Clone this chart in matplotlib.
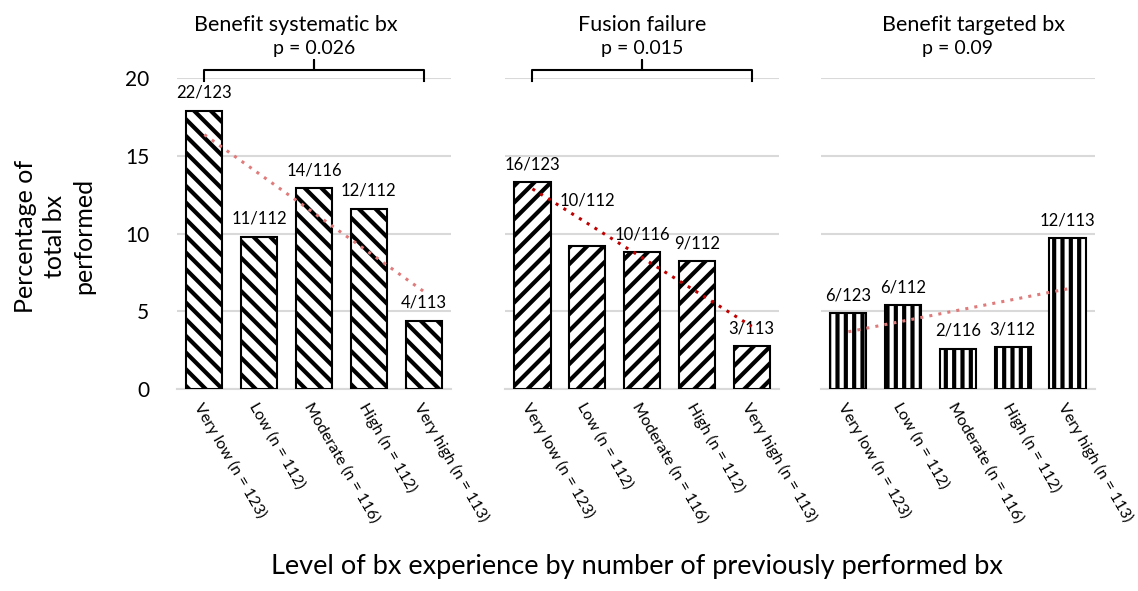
import numpy as np
from matplotlib import pyplot as plt

plt.rcParams['font.family'] = ['Lato', 'DejaVu Sans']
plt.rcParams['hatch.linewidth'] = 3.0

categories = ["Very low (n = 123)", "Low (n = 112)", "Moderate (n = 116)",
              "High (n = 112)", "Very high (n = 113)"]

titles = ["Benefit systematic bx", "Fusion failure", "Benefit targeted bx"]
p_values = ["p = 0.026", "p = 0.015", "p = 0.09"]

# percentages
systematic = [17.9, 9.8, 12.9, 11.6, 4.4]
fusion = [13.3, 9.2, 8.8, 8.2, 2.75]
targeted = [4.9, 5.4, 2.6, 2.7, 9.7]

systematic_lbl = ["22/123", "11/112", "14/116", "12/112", "4/113"]
fusion_lbl = ["16/123", "10/112", "10/116", "9/112", "3/113"]
targeted_lbl = ["6/123", "6/112", "2/116", "3/112", "12/113"]

yticks = [0, 5, 10, 15, 20]

panels = [
    (systematic, systematic_lbl, '\\\\', '#E07B7B', True, 1.67),
    (fusion, fusion_lbl, '//', '#C00000', True, 2.0),
    (targeted, targeted_lbl, '||', '#E07B7B', False, 2.28),
]
lefts = [0.1555, 0.4438, 0.7214]
grid_col = '#D9D9D9'

fig = plt.figure(figsize=(11.38, 5.91), dpi=100)

for i, (vals, lbls, hatch, tcol, bracket, tx) in enumerate(panels):
    ax = fig.add_axes([lefts[i], 0.3418, 0.2408, 0.5262])
    x = np.arange(len(vals))
    ax.bar(x, vals, width=0.66, color='white', edgecolor='black',
           hatch=hatch, linewidth=1.5, zorder=3)
    ax.set_xlim(-0.5, 4.5)
    ax.set_ylim(0, 20)
    ax.set_yticks(yticks)
    ax.grid(axis='y', color=grid_col, linewidth=1.5, zorder=0)
    for s in ['top', 'right', 'left']:
        ax.spines[s].set_visible(False)
    ax.spines['bottom'].set_color(grid_col)
    ax.spines['bottom'].set_linewidth(1.5)
    ax.tick_params(axis='both', length=0)
    if i == 0:
        ax.tick_params(axis='y', labelsize=15, pad=20)
    else:
        ax.set_yticklabels([])
    ax.set_xticks(x)
    ax.set_xticklabels(categories, rotation=-60, ha='left', va='top',
                       rotation_mode='anchor', fontsize=11.5)
    ax.tick_params(axis='x', pad=8)

    # linear trend
    k, b = np.polyfit(x, vals, 1)
    ax.plot(x[[0, -1]], k * x[[0, -1]] + b, linestyle=(0, (1, 2)),
            color=tcol, linewidth=2.2, zorder=4)

    for j, (v, t) in enumerate(zip(vals, lbls)):
        lift = 7
        if i == 1 and j == 1:
            lift = 27
        ax.annotate(t, (j, v), xytext=(0, lift), textcoords='offset points',
                    ha='center', va='bottom', fontsize=12)

    ax.text(tx, 23.4, titles[i], ha='center', va='center', fontsize=15.5,
            clip_on=False)
    ax.text(2.0, 21.9, p_values[i], ha='center', va='center', fontsize=14,
            clip_on=False)
    if bracket:
        ax.plot([0, 0, 2, 2, 2, 4, 4], [19.8, 20.5, 20.5, 21.15, 20.5, 20.5, 19.8],
                color='black', linewidth=1.5, clip_on=False, zorder=5)

fig.text(0.048, 0.6, "Percentage of\ntotal bx\nperformed", rotation=90,
         ha='center', va='center', fontsize=18, linespacing=1.3)
fig.text(0.56, 0.042, "Level of bx experience by number of previously performed bx",
         ha='center', va='center', fontsize=19.5)

plt.savefig('out.png', dpi=100)
